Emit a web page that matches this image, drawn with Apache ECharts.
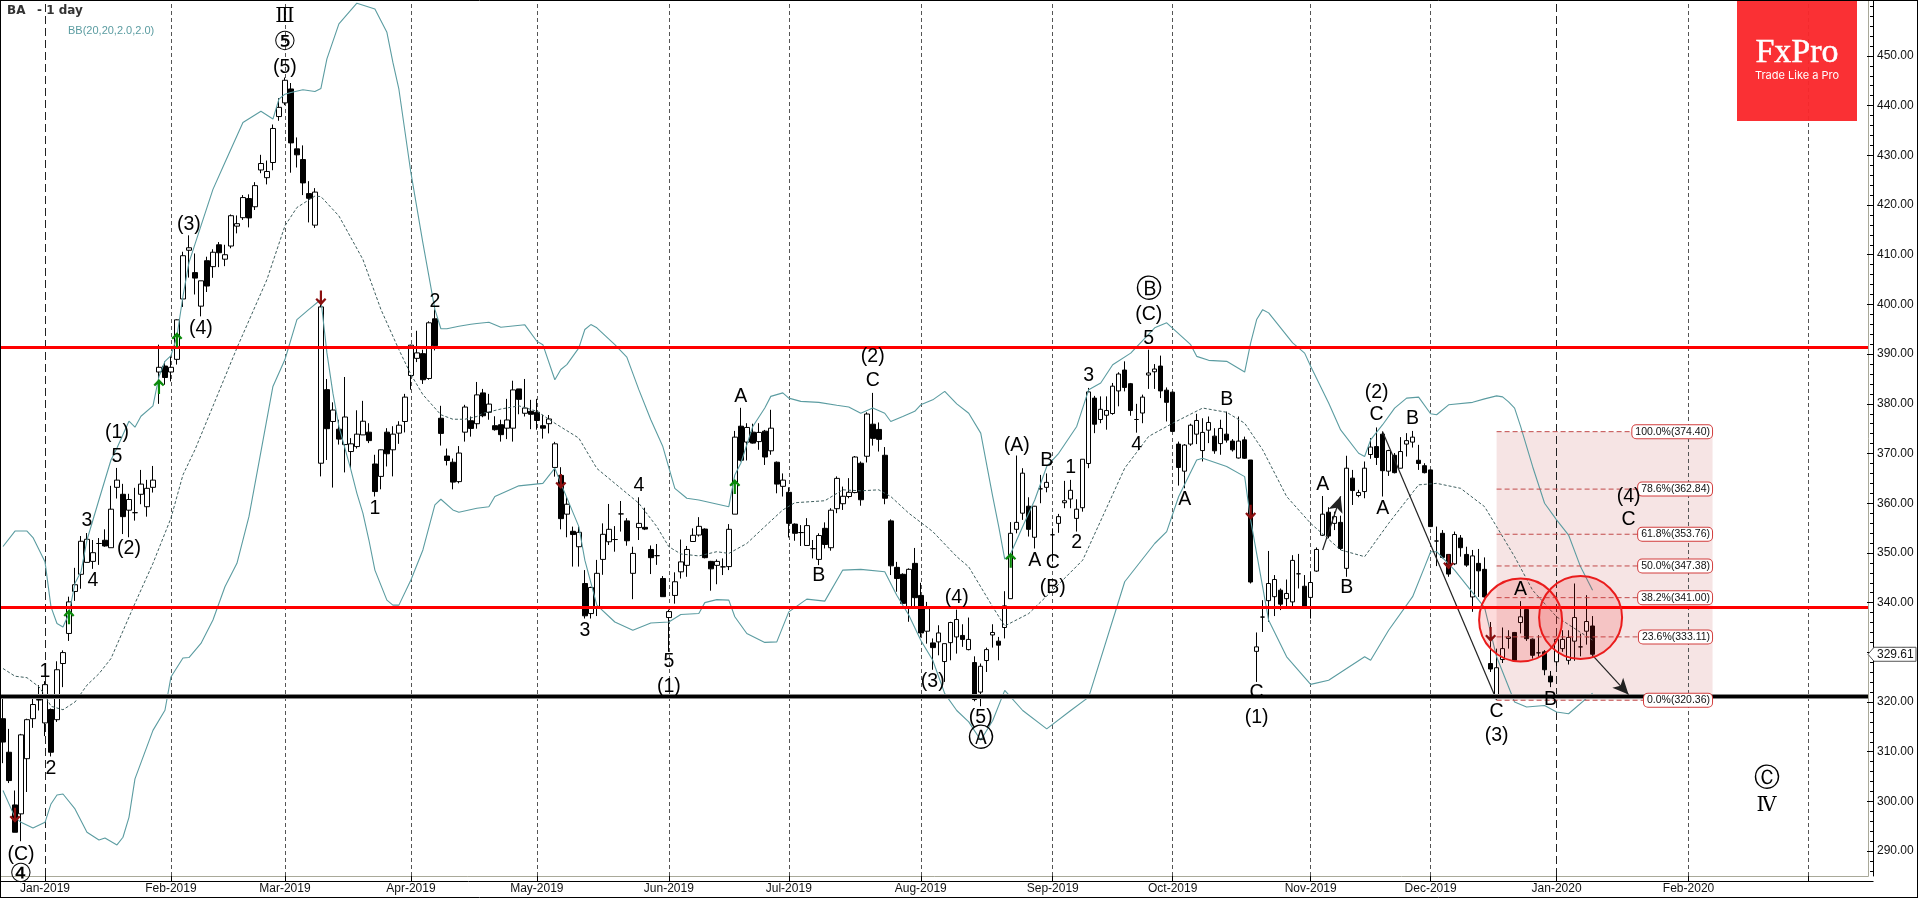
<!DOCTYPE html>
<html><head><meta charset="utf-8">
<style>html,body{margin:0;padding:0;background:#fff}#c{width:1918px;height:898px}</style>
<script src="https://cdn.jsdelivr.net/npm/echarts@6/dist/echarts.min.js"></script>
</head><body><div id="c"></div>
<script>
const opens=[316.65,309.9,299.3,297.5,308.6,316.65,320.5,315.8,318.5,316.45,
327.75,333.8,342.25,345.7,348.1,348.3,351.9,352.55,351.05,363.2,
361.8,358.6,358.1,361.8,359.3,363.2,386.4,387.6,386.4,388.95,
401.1,410.9,406.4,399.65,408.8,407.6,412,409.1,411.75,415.75,
417.45,421.3,419.65,427.05,425.5,428.55,437.8,440.55,443.35,431.3,
429.15,422.3,415.95,368.05,382.85,376.45,374.9,371.8,370.4,371.4,
373.75,374.3,367.9,365.4,374.3,370.75,374.1,376.45,385.7,389.15,
390.1,385.1,397.1,377.1,369.5,368.25,364.35,374.3,376.6,376,
382.2,378.3,375.6,375.8,375.1,375.1,383,378.1,378.5,378.3,
375.6,376,367.2,365.6,357.8,354.35,351.25,343.85,337.8,339.15,
348.7,352.25,352.7,357.85,356.45,345.9,355.1,355.15,350.7,349.45,
344.85,337,341.45,346.2,347.5,352.3,353.6,354.8,348.3,347.5,
347.2,347.25,357.8,375.5,372.3,374.3,372.4,374.5,370.55,368.25,
363.4,362.2,355.8,354.1,351.5,350.85,348.7,354.95,351.05,358.9,
359.9,361.35,362.15,368.05,369.45,375.9,374.85,369.65,356.45,347.1,
345.7,339.15,347.9,341.45,334.25,331.9,332.1,328.15,331.95,333.1,
333.4,330.55,327.95,322,328.35,333.5,332.25,335,340.8,354.75,
358,359.4,353.15,362.9,363.2,353.65,355.95,360.1,360.85,356.95,
359.1,368,381.15,376.85,377.7,378.05,382.6,386.8,384.05,376.85,
378.15,385.8,386.45,387.6,382.75,382.35,371.9,366.45,371.9,373.9,
370.6,374.7,373.5,372,373.9,372.5,369.1,372.75,368.7,330.2,
337.1,340.4,341.2,342.5,340.8,340.15,345.8,343.3,341.05,346.35,
353.55,358.2,355.95,356.15,346.9,365.05,361.55,362.35,369.8,371.4,
373.9,366.45,369.65,367.05,371.9,372.3,368.65,367.55,366.7,352.4,
353.95,349.7,347.8,353,349.7,341.15,347.9,346.7,327.75,320.7,
328.55,332.8,334,336,338.6,332.65,329.9,330.1,325.2,328.1,
330.75,328.4,332.25,331.1,334.25,335.3];
const closes=[311.95,304.2,293.8,313.4,316.45,319.5,320.4,323.5,309.9,326.5,
329.95,340.15,343.6,352.35,352.75,350.05,351.9,351.4,358.8,364.65,
357.3,360.75,358.1,363.85,363,364.65,387.35,385.3,387.35,396.9,
409.8,411.4,405.3,404.75,403.7,410.5,410.4,410,417.85,416.25,
421.5,417.4,423.9,428.35,426.75,435.4,439.65,445.1,432.5,430.1,
424.45,421.35,422.6,399.5,375,378.75,372.9,377.35,371.95,373.9,
376.5,372.6,362.35,370.75,369.95,373.9,375.7,381.35,391.8,390.25,
384.85,396.3,391.7,374.05,368.6,364.25,370.1,379.35,375.05,381.8,
377.6,379.95,374.8,373.8,376.75,382.8,380.9,379.15,377.9,376.65,
375.1,376.95,371.95,356.9,359.8,353.7,354.15,337.35,343.05,345.9,
353.75,354.75,352.7,357.85,352.45,349.9,355.95,354.8,349.05,349.45,
341.2,338.2,344.2,348.2,350.7,353.55,355.35,349.05,346.8,348.3,
347.2,354.75,373.3,368.65,375.25,372.1,374.25,369.3,375.1,363.85,
364.65,355.95,353.95,354.1,355.5,350.85,353.5,351.7,358.6,365,
361.4,362.2,369.3,360.7,377.95,373.05,372.85,361,347.4,344.85,
339.85,346.7,341,333.9,338.8,330.95,333.9,331.75,336,336.6,
332.6,332.6,320.5,327.2,330.55,334,331.45,339.35,353.95,356.15,
366.05,354.75,359.4,362.9,364.2,353.65,357.3,360.5,362.6,358.8,
368.85,382.4,375.9,378.9,378.65,383.55,386,383.3,378.65,376.85,
381.35,386.2,387,382.6,380.3,374.45,367.2,371.7,375.7,376.65,
374.25,376.25,370.55,375.05,372.7,370.75,372.5,369.05,344.15,331.1,
337.1,343.85,344.65,339.7,341.85,348.5,345.8,339.15,344.05,350.7,
357.8,353.4,357.3,350.9,367.05,362.55,362.15,367.05,371.3,369.2,
366.55,370.6,366.15,370.4,372.6,373.3,368,366.15,355.3,352.4,
349.1,345.75,353.7,351.05,347.55,349.4,346.4,341.15,326.65,326.9,
330.75,333.1,328.4,337.15,332.75,329.4,329.9,326.5,324.05,332.6,
332.6,333,337,331.1,336.2,329.61];
const highs=[321,314.6,302.2,313.6,316.65,320.7,323.4,324.2,318.7,328.2,
330.4,341.2,347,353.4,354,352.6,353,354.75,363.5,367.1,
363.9,361.9,363.1,366.7,364.7,367.5,391.9,388.5,389.6,397,
410.6,413.9,410.25,404.75,409.6,411.1,412.55,412,418.1,417.9,
422,422.15,424.6,430.1,428.95,436.2,441.5,445.65,444.55,433.6,
432,424.8,423.4,400,385,380.3,376.8,385.4,373.1,378.7,
380.6,376.1,369.75,370.8,375.1,375.5,376.5,382,391.9,394.7,
390.9,396.6,399,379.6,371,369,371.5,379.8,377.45,384.4,
383,382,377.5,376.8,381,384.65,383,385,380.8,381,
377.8,377.75,372.35,367.25,361.2,355.3,355.3,346.55,343.2,348.6,
355.95,359.85,355.4,360.45,357,351.25,361.2,359.1,351.5,351.8,
345.35,338.6,346.1,352.7,351.4,354.95,357.2,354.95,348.4,348.7,
348.9,355.8,374.55,379.2,376.1,376,376.1,374.75,378.8,368.4,
366,363.2,355.95,355.6,357,352.6,353.95,356.15,359,365.4,
363.35,365.05,369.5,368.4,378.3,382.2,376.25,371.3,356.75,348.2,
345.9,346.9,351,344,340.15,332.8,335.45,331.75,336.15,338.6,
335.65,337,329.2,327.75,330.95,335.65,333.1,342.3,356.2,369.6,
367.05,361.2,359.45,365.7,366,354.95,357.85,364.5,364.7,360.8,
368.85,383.2,381.6,381.5,381.5,384.2,386.35,388.55,384.2,380,
381.85,390.9,388,389.7,383.3,382.5,372.4,371.9,376,378,
377.1,377.45,375.1,376.8,378.45,372.9,377.45,373.4,368.7,334,
340.5,350.4,345.55,342.85,344.65,349.55,349.8,345.55,346.2,351.1,
361.45,359.2,358.3,357.5,369.55,366.7,362.7,368.4,373.1,375.25,
374.45,370.75,370.1,373.3,374.1,374.55,371.75,368.05,366.7,355.3,
354.6,349.7,354.3,353.6,351.25,350.6,350.8,349.1,336.1,330.75,
335,334.45,334.1,340.3,338.6,332.8,333.45,330.45,326.25,332.8,
334.45,334.45,343.85,333.75,341.5,337.3];
const lows=[307.7,303.7,293.8,292,301.9,314.8,318.3,313.15,309.05,316,
323,332.3,340.35,342.8,348.1,346.8,347.6,351.25,351.05,360.95,
353.8,353.15,356.5,359.8,357.3,362.15,380,383.85,384.5,387.9,
399.5,405.4,402,397.6,402.5,405.35,407.5,407.7,411.3,414.3,
417,415.5,419,426.4,424.15,427,436.95,440.1,426.5,427.55,
422,416.5,415.4,365.4,368.7,363.15,371.8,366.2,367.05,371,
373.75,372.1,361.35,362.8,367.4,365.4,371.95,374.25,382.85,388.4,
384,384.85,390.75,371.6,367.6,362.8,364,372.4,373.4,375,
377.3,376.8,374.6,372.4,372.9,372.4,377.9,377.45,374.9,374.8,
373,374.05,365.35,354.75,353.15,347.25,347.25,336.8,336.8,337.3,
345.6,351.6,350.25,354.3,351.45,340.7,352.6,354.6,345.75,347.6,
341.2,330.1,339.8,344.85,345.2,352.25,353.3,348.9,342.4,343.7,
345.55,346.55,357.8,368.4,368.6,372,370.75,367.7,369.75,362,
361.35,353.1,352.45,351.4,351.5,348.9,347.55,350.9,350.45,358,
358.65,361,362,359.5,368.2,371.6,370.4,359.8,345.55,342.2,
339.5,336.15,338.8,333,331.75,326.5,329.4,324.05,328.4,329.75,
331.1,330.4,320.15,319.15,326.05,330.95,328.4,332.8,340.8,353.95,
356.65,353.3,350.9,360,362.2,348.25,354.05,359,359,354.3,
358.3,367.05,374.1,376.1,374.8,377.8,379.5,382.5,377.6,374.2,
376.1,383,383,381.15,376.45,374.45,363.55,363,371.55,371.9,
368.4,372.1,369.95,369.75,372.2,370.4,369,368.9,343.85,324.05,
334.1,336.15,337.3,338.5,338.8,339.15,342.85,338.8,336.8,346.2,
353.4,352.95,354.6,350.6,345.2,359.65,361.2,361,368.95,367.7,
361.35,365.5,366,367,369.4,371.2,366.7,366,355.3,347.35,
348.9,345.2,347.55,349.25,347.2,338.15,341.15,341,326.05,320.7,
327.85,330.75,328.1,333.8,332.3,328.75,329.1,325.4,323,327.25,
330.1,327.55,328.3,329.2,331.55,329.1];

const bbUpper=[[0,351.3],[2,354.4],[4,354.4],[5,353.1],[7,348.25],[8,339.15],[9,335.8],[10,335.1],[11,337.8],[12,343.9],[13,346.2],[14,352.6],[16,360.7],[18,368.7],[19,371.1],[21,376.5],[22,375.3],[23,377.5],[25,379.6],[26,385.5],[27,388.55],[28,389.7],[29,393.6],[30,401.65],[31,408.4],[33,415.8],[35,423.15],[37,428.55],[40,436.6],[43,438.85],[45,437.3],[46,441.3],[47,442.3],[48,442.65],[50,443.2],[52,442.85],[53,443.45],[54,449.4],[56,456.45],[59,460.6],[62,459.45],[64,454.75],[65,448.7],[66,443.3],[68,426.5],[70,412.4],[71,405.7],[72,399],[73,395.1],[74,395.1],[76,395.6],[78,396],[79,396.15],[81,396.4],[83,395.4],[87,395.9],[89,392.6],[90,391.9],[92,384.85],[93,386.9],[94,387.9],[96,391.25],[97,394.95],[98,395.95],[99,395.3],[102,391.9],[104,389.4],[106,382.85],[108,376.8],[110,371.4],[112,363],[114,361],[116,360.65],[121,359.3],[122,365.7],[123,368.05],[125,375.45],[127,379.15],[128,381.5],[130,382.2],[131,381.15],[133,380.5],[136,380.3],[139,379.7],[141,379.35],[143,378.1],[145,379.15],[147,378.1],[148,376.45],[150,377.45],[152,378.5],[153,379.8],[155,380.8],[157,382.5],[159,380],[161,378.1],[163,374.1],[165,361.35],[166,355.3],[167,348.75],[168,349.9],[170,355.3],[172,360.65],[174,367.4],[176,370.05],[179,375.45],[181,382.85],[183,384.2],[185,387.85],[188,390.2],[192,395.3],[194,396.3],[198,391.9],[199,389.55],[201,388.75],[204,388.55],[207,386.4],[208,392.25],[209,396.95],[210,398.95],[211,398.3],[215,392.25],[217,390.2],[218,387.55],[221,380.15],[223,374.75],[226,370.05],[227,369.4],[228,372.75],[230,375.8],[232,379.15],[234,381.15],[236,381.35],[238,378],[239,377.8],[241,379.8],[245,380.3],[247,381],[249,381.6],[250,381.4],[251,380.4],[252,379.15],[253,375.45],[255,367.4],[257,360],[259,356.65],[261,353.6],[263,347.2],[265,342.5]];
const bbMiddle=[[0,326.75],[2,325.2],[4,324.9],[6,323.05],[7,321.35],[8,319.15],[10,318.45],[12,320],[14,323.4],[16,325.7],[18,328.75],[22,339.85],[25,347.9],[28,357],[30,365.7],[32,370.75],[39,391.25],[44,405],[47,415.8],[49,419.5],[52,421.8],[53,421.7],[56,417.8],[60,409.05],[63,399],[66,390.9],[68,385.9],[70,381.85],[73,377.8],[75,376.9],[77,376.9],[79,377.45],[80,378.1],[83,378.95],[86,379.6],[89,378.5],[92,376.1],[96,373.1],[99,367],[103,363],[106,360],[109,355.3],[111,351.25],[113,349.8],[116,349.4],[119,350.25],[121,349.9],[124,351.9],[127,355.3],[130,358.65],[132,360.1],[137,360.5],[140,362.7],[143,362.5],[146,362.7],[148,361.35],[151,358],[155,354.3],[159,349.25],[161,347.2],[165,339.15],[167,335.3],[171,337.8],[175,342.5],[180,348.55],[187,367.05],[191,373.45],[195,376.1],[200,379.15],[204,378.3],[207,376.1],[210,370.75],[214,361.35],[218,355.95],[223,350.6],[227,349.25],[231,355.95],[236,363.7],[239,364],[243,363],[247,359.3],[249,355.3],[252,349.25],[255,342.5],[259,337.15],[265,332.45]];
const bbLower=[[0,302.2],[2,296.8],[3,295.8],[5,294.65],[7,295.8],[8,299.5],[9,301.3],[10,301.5],[12,298.5],[14,293.8],[16,292.25],[17,292.65],[19,291.25],[20,292.8],[21,296.8],[22,304.55],[25,314.3],[27,318.35],[28,325.05],[30,328.85],[31,328.95],[33,331.8],[35,336.5],[37,343.2],[39,347.9],[41,357.3],[43,370.4],[45,383.5],[47,388.9],[49,396.95],[51,399],[53,401],[54,390.25],[55,382.15],[56,375.45],[57,371.1],[58,366.7],[59,362],[60,358],[61,352.6],[62,346.55],[64,340.5],[65,339.5],[66,339.5],[68,344.55],[70,350.6],[72,359.65],[73,360.8],[75,358.65],[76,358.2],[79,359],[81,359.3],[82,361.35],[86,363.5],[90,364],[92,367.05],[93,364],[96,355.3],[97,348.55],[99,339.5],[102,336.1],[105,334.45],[108,335.9],[111,336.1],[113,337.6],[116,337.8],[117,340],[119,340.6],[121,340.5],[122,337.15],[124,333.8],[127,332],[129,332.1],[131,338.15],[134,340.7],[137,340.3],[140,346.55],[143,346.7],[147,346.2],[149,341.5],[151,337.5],[153,332.45],[155,328.4],[157,321.7],[159,318.3],[161,316],[163,312.3],[165,316.3],[167,322.35],[170,318.3],[174,314.6],[178,318.3],[181,321],[187,344.2],[192,351.9],[194,354.3],[196,361.35],[199,368.7],[200,369.05],[204,367.4],[207,365.35],[208,356.6],[211,336.45],[214,329.1],[218,323.55],[221,324.4],[227,329.1],[228,328.4],[231,334.45],[235,341.2],[237,347.2],[238,350.25],[239,350.25],[242,346.55],[247,339],[249,329.1],[252,320],[254,319],[257,319.3],[259,318],[261,317.65],[265,321.8]];

const monthIndex=[7,28,47,68,89,111,131,153,175,195,218,238,259,281,301];
const monthLabels=['Jan-2019','Feb-2019','Mar-2019','Apr-2019','May-2019','Jun-2019','Jul-2019','Aug-2019','Sep-2019','Oct-2019','Nov-2019','Dec-2019','Jan-2020','Feb-2020',''];
const yearIndex=[7,259];
const majorTicks=[290,300,310,320,330,340,350,360,370,380,390,400,410,420,430,440,450];
const minorTicks=[286,288,292,294,296,298,302,304,306,308,312,314,316,318,322,324,326,328,332,334,336,338,342,344,346,348,352,354,356,358,362,364,366,368,372,374,376,378,382,384,386,388,392,394,396,398,402,404,406,408,412,414,416,418,422,424,426,428,432,434,436,438,442,444,446,448,452,454,456,458,460];
const redLevels=[391.4,339.1];
const blackLevels=[321.1];
const lastPrice=329.61;

const fibLevels=['100.0%','78.6%','61.8%','50.0%','38.2%','23.6%','0.0%'];
const fibValues=[374.40,362.84,353.76,347.38,341.00,333.11,320.36];
const fibLineEnd=[272,273,273,273,273,273,274];
const fibStart=249, fibEnd=285;

const waveLabels=[[47,447.7,'(5)'],[31,416.1,'(3)'],[33,395.15,'(4)'],[72,400.65,'2'],[19,374.25,'(1)'],[19,369.4,'5'],[14,356.45,'3'],[15,344.35,'4'],[21,350.9,'(2)'],[7,326.05,'1'],[8,306.7,'2'],[3,289.4,'(C)'],[62,359,'1'],[97,334.3,'3'],[111,328.05,'5'],[111,323.15,'(1)'],[106,363.5,'4'],[123,381.5,'A'],[145,389.4,'(2)'],[145,384.7,'C'],[136,345.4,'B'],[155,324.05,'(3)'],[159,341.1,'(4)'],[163,316.95,'(5)'],[169,371.6,'(A)'],[172,348.55,'A'],[174,368.6,'B'],[175,348.05,'C'],[175,343.05,'(B)'],[178,367.2,'1'],[179,352.05,'2'],[181,385.7,'3'],[189,371.75,'4'],[191,397.85,'(C)'],[191,393.1,'5'],[197,360.65,'A'],[204,380.8,'B'],[209,321.9,'C'],[209,316.8,'(1)'],[220,363.7,'A'],[224,343.05,'B'],[229,382.35,'(2)'],[229,377.8,'C'],[230,358.85,'A'],[235,377.1,'B'],[253,342.7,'A'],[258,320.55,'B'],[249,318,'C'],[249,313.3,'(3)'],[271,361.3,'(4)'],[271,356.75,'C']];
const circledLabels=[[47,452.6,'⑤'],[3,285.1,'④'],[163,312.5,'Ⓐ'],[191,402.9,'Ⓑ'],[294,304.4,'Ⓒ']];
const romanLabels=[[47,457.8,'Ⅲ'],[294,299.1,'Ⅳ']];
const upArrows=[[11,337.15],[26,383.5],[29,392.9],[122,363.35],[168,348.55]];
const downArrows=[[2,297.2],[53,401.3],[93,364.35],[208,358.2],[241,348.2],[248,333.6]];
const trendLine=[[230,374.4],[249,320.4]];
const arrowLines=[[[265,329.4],[271,321.5]],[[220,350.6],[223,361.4]]];
const circles=[[253,336.5],[263,337]];

const ohlc=opens.map((o,i)=>[o,closes[i],lows[i],highs[i]]);
const cats=[];
for(let i=0;i<312;i++){const k=monthIndex.indexOf(i);cats.push(k>=0?(monthLabels[k]||' '):'');}
const isMonth=(i)=>monthIndex.indexOf(i)>=0;
const FONT='"Liberation Sans",Arial,sans-serif';
const AW='path://M5,0 L10,5.5 L8.6,6.9 L6,4.4 L6,14 L4,14 L4,4.4 L1.4,6.9 L0,5.5 Z';
const BAND='#5b9ca1';
const textSeries=(list,font,size)=>({type:'scatter',xAxisIndex:0,yAxisIndex:0,z:6,symbolSize:1,clip:false,silent:true,
  itemStyle:{color:'transparent',opacity:1},
  data:list.map(d=>({name:d[2],value:[d[0],d[1]]})),
  label:{show:true,position:'inside',formatter:'{b}',color:'#000',opacity:1,fontFamily:font,fontSize:size}});

const series=[
 {type:'line',xAxisIndex:0,yAxisIndex:0,z:1,symbol:'none',silent:true,lineStyle:{width:0},
  data:[[fibStart,fibValues[0]],[fibEnd,fibValues[0]]],
  markArea:{silent:true,z:0,itemStyle:{color:'#f6e4e4',opacity:1},data:[[{coord:[fibStart,fibValues[0]]},{coord:[fibEnd,fibValues[6]]}]]},
  markLine:{silent:true,z:1,animation:false,symbol:'none',label:{show:false},
   data:monthIndex.filter(i=>yearIndex.indexOf(i)<0).map(i=>({xAxis:i,lineStyle:{color:'#555',type:[4,3],width:1}}))
    .concat(yearIndex.map(i=>({xAxis:i,lineStyle:{color:'#222',type:[8,4],width:1}})))}},
 {type:'candlestick',xAxisIndex:0,yAxisIndex:0,z:2,barWidth:5,data:ohlc,silent:true,
  itemStyle:{color:'#fff',color0:'#000',borderColor:'#000',borderColor0:'#000',borderColorDoji:'#000',borderWidth:1}},
 {type:'line',xAxisIndex:0,yAxisIndex:0,z:3,symbol:'none',silent:true,data:bbUpper,lineStyle:{color:BAND,width:1.1}},
 {type:'line',xAxisIndex:0,yAxisIndex:0,z:3,symbol:'none',silent:true,data:bbLower,lineStyle:{color:BAND,width:1.1}},
 {type:'line',xAxisIndex:0,yAxisIndex:0,z:3,symbol:'none',silent:true,data:bbMiddle,lineStyle:{color:'#3f5f5f',width:1,type:[3,2]}},
 {type:'line',xAxisIndex:0,yAxisIndex:0,z:3,symbol:'none',silent:true,data:trendLine,lineStyle:{color:'#222',width:1.2}},
 {type:'line',xAxisIndex:0,yAxisIndex:0,z:4,symbol:'none',silent:true,data:[],
  markLine:{silent:true,z:4,animation:false,symbol:'none',label:{show:false},
   data:redLevels.map(v=>({yAxis:v,lineStyle:{color:'#ff0000',width:3,type:'solid'}}))
    .concat(blackLevels.map(v=>({yAxis:v,lineStyle:{color:'#888',width:5,type:'solid'}})))
    .concat(blackLevels.map(v=>({yAxis:v,lineStyle:{color:'#000',width:3,type:'solid'}})))}},
 {type:'line',xAxisIndex:0,yAxisIndex:0,z:4,symbol:'none',silent:true,data:[],
  markLine:{silent:true,z:4,animation:false,symbol:['none','arrow'],symbolSize:[11,16],label:{show:false},
   lineStyle:{color:'#222',width:1.2,type:'solid'},
   data:arrowLines.map(a=>[{coord:a[0]},{coord:a[1]}])}}
];
fibValues.forEach((v,k)=>series.push({type:'line',xAxisIndex:0,yAxisIndex:0,z:3,symbol:'none',silent:true,
  data:[[fibStart,v],[fibLineEnd[k],v]],lineStyle:{color:'#c14a4a',width:1,type:[5,3]}}));
series.push(
 {type:'scatter',xAxisIndex:0,yAxisIndex:0,z:5,symbol:'circle',symbolSize:83,silent:true,data:circles,
  itemStyle:{color:'rgba(240,30,30,0.16)',borderColor:'#ea1c1c',borderWidth:2,opacity:1}},
 {type:'scatter',xAxisIndex:0,yAxisIndex:0,z:5,symbol:AW,symbolSize:[11,15],symbolKeepAspect:false,silent:true,data:upArrows,
  itemStyle:{color:'#0b8a0b',opacity:1}},
 {type:'scatter',xAxisIndex:0,yAxisIndex:0,z:5,symbol:AW,symbolSize:[11,15],symbolRotate:180,silent:true,data:downArrows,
  itemStyle:{color:'#8b0f0f',opacity:1}},
 {type:'scatter',xAxisIndex:0,yAxisIndex:0,z:6,symbolSize:1,silent:true,clip:false,itemStyle:{color:'transparent',opacity:1},
  data:fibLevels.map((l,k)=>({name:l+'('+fibValues[k].toFixed(2)+')',value:[fibEnd,fibValues[k]]})),
  label:{show:true,position:'left',distance:0,formatter:'{b}',color:'#111',opacity:1,fontFamily:FONT,fontSize:10.5,backgroundColor:'#fff',
   borderColor:'#d23c3c',borderWidth:1,borderRadius:4,padding:[1,2,1,3]}},
 textSeries(waveLabels,FONT,19.5),
 textSeries(circledLabels,'"DejaVu Sans"',26),
 textSeries(romanLabels,'"DejaVu Serif","Liberation Serif",serif',20)
);

const chart=echarts.init(document.getElementById('c'),null,{renderer:'canvas'});
chart.setOption({
 animation:false,backgroundColor:'#fff',
 tooltip:{show:false},
 grid:[{left:-0.5,top:0,width:1872,height:876,containLabel:false},{left:-0.5,top:0,width:1872,height:876}],
 xAxis:[
  {type:'category',gridIndex:0,data:cats,boundaryGap:true,z:7,position:'bottom',
   axisLine:{show:false},splitLine:{show:false},
   axisTick:{show:true,length:5,alignWithLabel:true,interval:(i)=>isMonth(i),lineStyle:{color:'#000'}},
   axisLabel:{show:true,interval:(i)=>isMonth(i),margin:7,color:'#111',fontFamily:FONT,fontSize:12}},
  {type:'category',gridIndex:1,data:cats,show:false}
 ],
 yAxis:[
  {type:'value',gridIndex:0,position:'right',offset:1.5,min:285,max:461.25,z:7,scale:true,
   axisLine:{show:true,lineStyle:{color:'#000',width:1}},splitLine:{show:false},
   axisTick:{show:true,inside:true,length:6,customValues:majorTicks,lineStyle:{color:'#000'}},
   axisLabel:{show:true,customValues:majorTicks,inside:false,margin:4,color:'#111',fontFamily:FONT,fontSize:12,
    formatter:(v)=>Number(v).toFixed(2)}},
  {type:'value',gridIndex:1,position:'right',offset:1.5,min:285,max:461.25,z:7,scale:true,
   axisLine:{show:false},splitLine:{show:false},
   axisTick:{show:true,inside:true,length:3,customValues:minorTicks,lineStyle:{color:'#000'}},
   axisLabel:{show:false}}
 ],
 series:series
});
const py=chart.convertToPixel({yAxisIndex:0},lastPrice);
const hl=(x1,y1,x2,y2,c,z)=>({type:'line',silent:true,z:z,shape:{x1,y1,x2,y2},style:{stroke:c,lineWidth:1}});
chart.setOption({graphic:{elements:[
 {type:'rect',silent:true,z:6,shape:{x:1868,y:0,width:50,height:898},style:{fill:'#fff'}},
 {type:'rect',silent:true,z:6,shape:{x:0,y:876.5,width:1918,height:22},style:{fill:'#fff'}},
 hl(1868.5,0,1868.5,876.5,'#a9a999',6),hl(0,876.5,1868.5,876.5,'#a9a999',6),
 hl(0,881.5,1873.5,881.5,'#000',8),hl(0,897.5,1918,897.5,'#000',8),hl(0.5,0,0.5,898,'#000',8),hl(0,0.5,1918,0.5,'#000',8),hl(1917.5,0,1917.5,898,'#000',8),
 {type:'polygon',silent:true,z:8,shape:{points:[[1868,py],[1874,py-7],[1916,py-7],[1916,py+7],[1874,py+7]]},style:{fill:'#fff',stroke:'#555',lineWidth:1}},
 {type:'text',silent:true,z:9,x:1877,y:py,style:{text:lastPrice.toFixed(2),fill:'#111',font:'12px '+FONT,verticalAlign:'middle'}},
 {type:'rect',silent:true,z:9,shape:{x:1737,y:1,width:120,height:120},style:{fill:'rgba(250,40,44,0.96)'}},
 {type:'text',silent:true,z:10,x:1797,y:53,style:{text:'FxPro',fill:'#fff',font:'34px "Liberation Serif",serif',align:'center',verticalAlign:'middle',stroke:'#fff',lineWidth:0.5}},
 {type:'text',silent:true,z:10,x:1797,y:76,style:{text:'Trade Like a Pro',fill:'#fff',font:'11px "Inter",sans-serif',align:'center',verticalAlign:'middle'}},
 {type:'text',silent:true,z:10,x:7,y:5,style:{text:'BA',fill:'#333',font:'bold 12px "DejaVu Sans",sans-serif'}},
 {type:'text',silent:true,z:10,x:37,y:5,style:{text:'- 1 day',fill:'#333',font:'bold 12px "DejaVu Sans",sans-serif'}},
 {type:'text',silent:true,z:10,x:68,y:25,style:{text:'BB(20,20,2.0,2.0)',fill:BAND,font:'11px '+FONT}}
]}});
</script></body></html>
